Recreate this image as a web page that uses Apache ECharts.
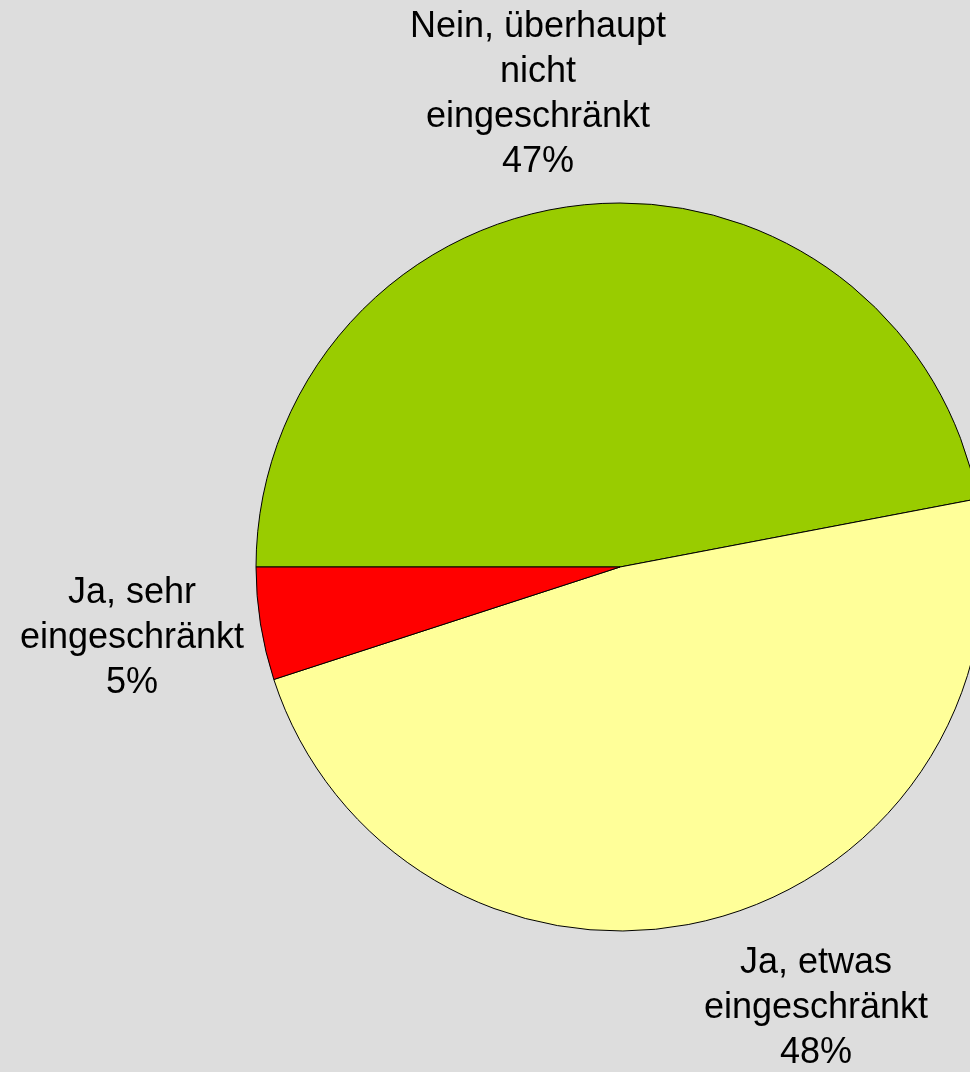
<!DOCTYPE html>
<html>
<head>
<meta charset="utf-8">
<script src="https://cdn.jsdelivr.net/npm/echarts@6/dist/echarts.min.js"></script>
<style>
  html, body { margin: 0; padding: 0; background: #dddddd; }
  #main { width: 970px; height: 1072px; }
</style>
</head>
<body>
<div id="main"></div>
<script>
    var names = ['Nein, überhaupt\nnicht\neingeschränkt', 'Ja, etwas\neingeschränkt', 'Ja, sehr\neingeschränkt'];
    var values = [47, 48, 5];
    var colors = ['#99cc00', '#ffff99', '#ff0000'];
    // where the old chart put its labels (centre of each text block)
    var labelPos = [[538, 95], [816, 1008], [132, 638]];

    var myChart = echarts.init(document.getElementById('main'));

    var pieData = [];
    for (var i = 0; i < names.length; i++) {
        pieData.push({
            name: names[i],
            value: values[i],
            itemStyle: { color: colors[i] }
        });
    }

    myChart.setOption({
        backgroundColor: '#dddddd',
        animation: false,
        series: [{
            type: 'pie',
            center: [620, 567],
            radius: 364,
            startAngle: 180,
            clockwise: true,
            data: pieData,
            itemStyle: {
                borderColor: '#000',
                borderWidth: 1
            },
            label: {
                show: true,
                position: 'outside',
                formatter: '{b}\n{c}%',
                fontFamily: '"Liberation Sans", Arial, sans-serif',
                fontSize: 36,
                lineHeight: 45,
                color: '#000',
                align: 'center',
                overflow: 'none'
            },
            labelLine: { show: false },
            labelLayout: function (params) {
                var p = labelPos[params.dataIndex];
                return {
                    x: p[0],
                    y: p[1],
                    align: 'center',
                    verticalAlign: 'middle'
                };
            },
            emphasis: { disabled: true }
        }]
    });
</script>
</body>
</html>
